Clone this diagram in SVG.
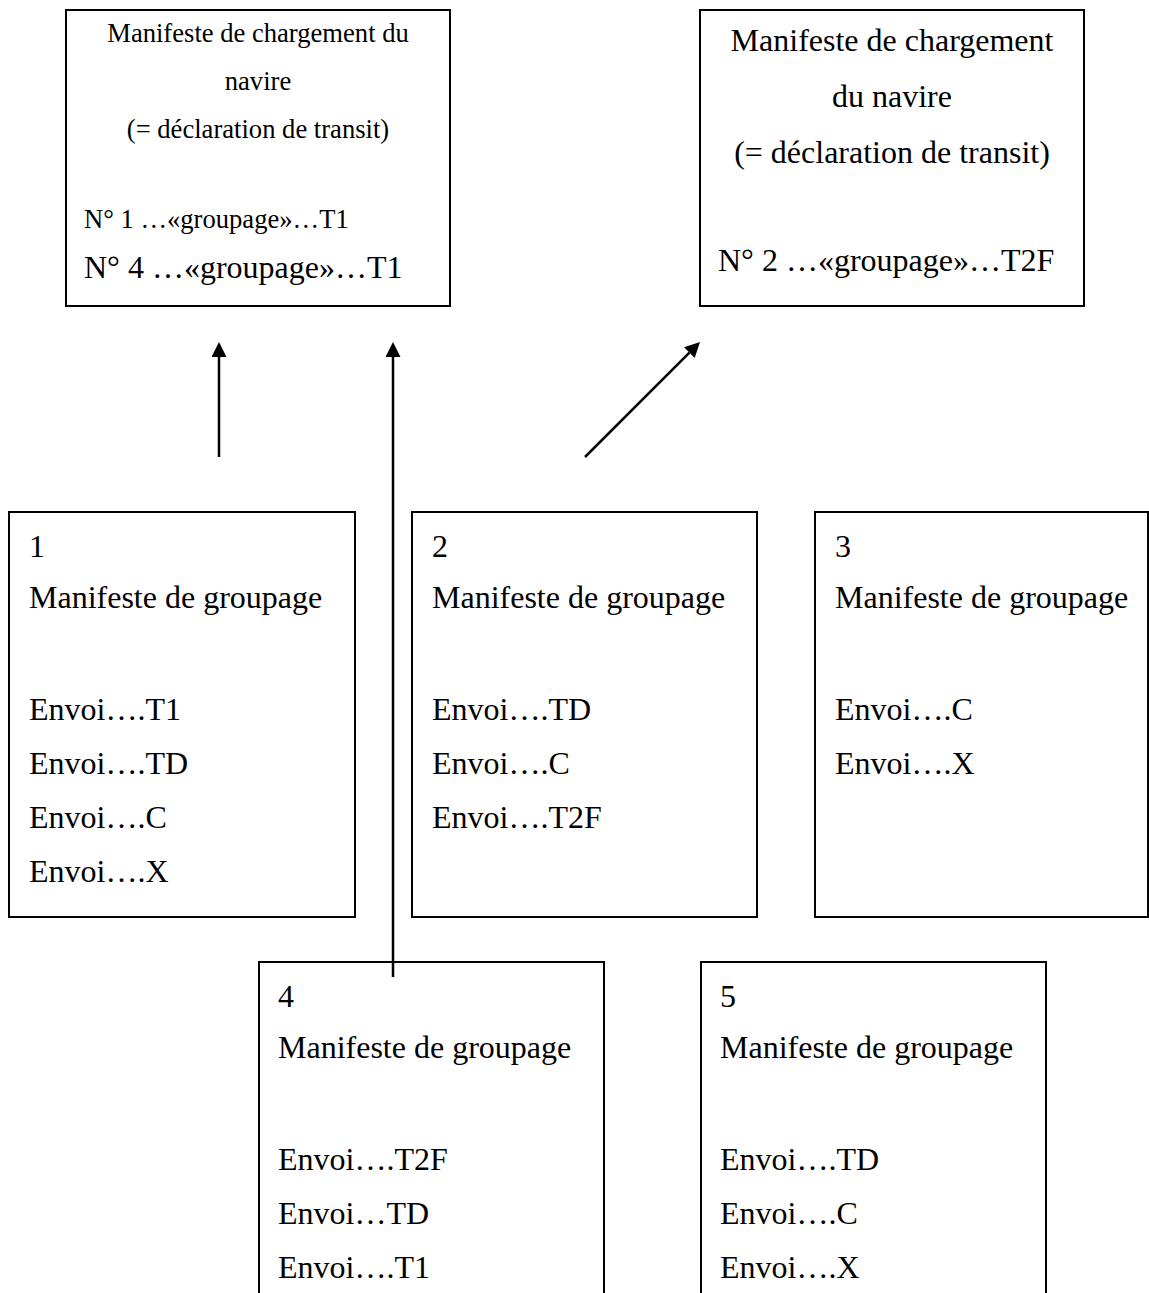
<svg xmlns="http://www.w3.org/2000/svg" width="1149" height="1293" viewBox="0 0 1149 1293">
<style>
  .box { fill: #fff; stroke: #000; stroke-width: 2; }
  .t { font-family: "Liberation Serif", "Times New Roman", serif; font-size: 32px; fill: #000; }
  .s { font-size: 26.6px; }
  .c { text-anchor: middle; }
  .conn { stroke: #000; stroke-width: 2.5; fill: none; }
</style>
<defs>
  <marker id="ah" markerUnits="userSpaceOnUse" markerWidth="16" markerHeight="16" refX="0" refY="7.5" orient="auto">
    <path d="M0,0 L15,7.5 L0,15 Z" fill="#000"/>
  </marker>
</defs>
<rect width="1149" height="1293" fill="#fff"/>

<g id="node-ship-manifest-1">
  <rect class="box" x="66" y="10" width="384" height="296"/>
  <text class="t s c" x="258" y="42">Manifeste de chargement du</text>
  <text class="t s c" x="258" y="90">navire</text>
  <text class="t s c" x="258" y="138">(= déclaration de transit)</text>
  <text class="t s" x="84" y="228">N° 1 …«groupage»…T1</text>
  <text class="t" x="84" y="278">N° 4 …«groupage»…T1</text>
</g>

<g id="node-ship-manifest-2">
  <rect class="box" x="700" y="10" width="384" height="296"/>
  <text class="t c" x="892" y="51">Manifeste de chargement</text>
  <text class="t c" x="892" y="107">du navire</text>
  <text class="t c" x="892" y="163">(= déclaration de transit)</text>
  <text class="t" x="718" y="271">N° 2 …«groupage»…T2F</text>
</g>

<g id="node-groupage-1">
  <rect class="box" x="9" y="512" width="346" height="405"/>
  <text class="t" x="29" y="557">1</text>
  <text class="t" x="29" y="608">Manifeste de groupage</text>
  <text class="t" x="29" y="720">Envoi….T1</text>
  <text class="t" x="29" y="774">Envoi….TD</text>
  <text class="t" x="29" y="828">Envoi….C</text>
  <text class="t" x="29" y="882">Envoi….X</text>
</g>

<g id="node-groupage-2">
  <rect class="box" x="412" y="512" width="345" height="405"/>
  <text class="t" x="432" y="557">2</text>
  <text class="t" x="432" y="608">Manifeste de groupage</text>
  <text class="t" x="432" y="720">Envoi….TD</text>
  <text class="t" x="432" y="774">Envoi….C</text>
  <text class="t" x="432" y="828">Envoi….T2F</text>
</g>

<g id="node-groupage-3">
  <rect class="box" x="815" y="512" width="333" height="405"/>
  <text class="t" x="835" y="557">3</text>
  <text class="t" x="835" y="608">Manifeste de groupage</text>
  <text class="t" x="835" y="720">Envoi….C</text>
  <text class="t" x="835" y="774">Envoi….X</text>
</g>

<g id="node-groupage-4">
  <rect class="box" x="259" y="962" width="345" height="360"/>
  <text class="t" x="278" y="1007">4</text>
  <text class="t" x="278" y="1058">Manifeste de groupage</text>
  <text class="t" x="278" y="1170">Envoi….T2F</text>
  <text class="t" x="278" y="1224">Envoi…TD</text>
  <text class="t" x="278" y="1278">Envoi….T1</text>
</g>

<g id="node-groupage-5">
  <rect class="box" x="701" y="962" width="345" height="360"/>
  <text class="t" x="720" y="1007">5</text>
  <text class="t" x="720" y="1058">Manifeste de groupage</text>
  <text class="t" x="720" y="1170">Envoi….TD</text>
  <text class="t" x="720" y="1224">Envoi….C</text>
  <text class="t" x="720" y="1278">Envoi….X</text>
</g>

<g id="connectors">
  <path class="conn" d="M219,457 L219,357" marker-end="url(#ah)"/>
  <path class="conn" d="M393,977 L393,357" marker-end="url(#ah)"/>
  <path class="conn" d="M585,457 L689.4,352.6" marker-end="url(#ah)"/>
</g>
</svg>
